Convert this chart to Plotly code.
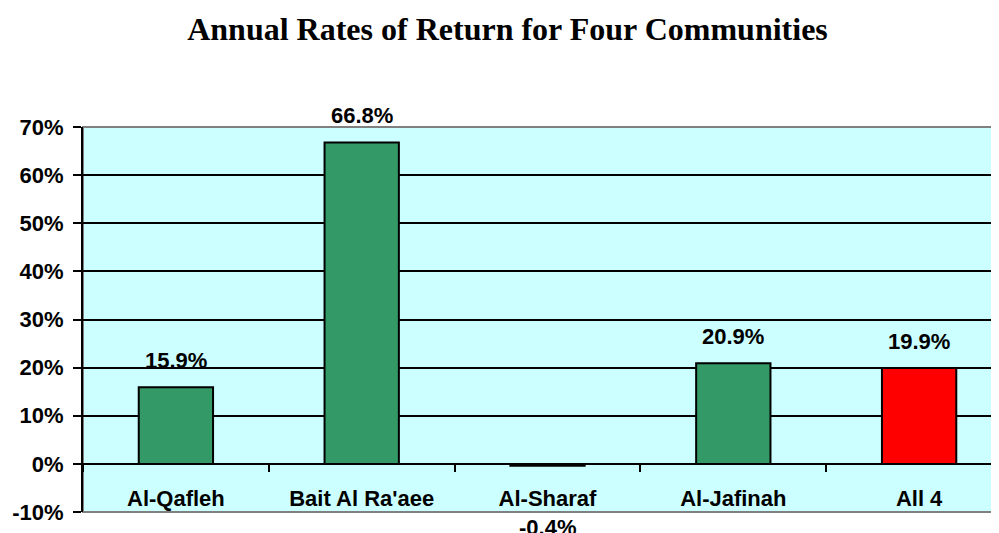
import plotly.graph_objects as go

categories = ["Al-Qafleh", "Bait Al Ra'aee", "Al-Sharaf", "Al-Jafinah", "All 4"]
returns = [0.159, 0.668, -0.004, 0.209, 0.199]
bar_colors = ["#339966", "#339966", "#339966", "#339966", "#FF0000"]
label_texts = ["15.9%", "66.8%", "-0.4%", "20.9%", "19.9%"]
y_ticks = [-0.1, 0.0, 0.1, 0.2, 0.3, 0.4, 0.5, 0.6, 0.7]
y_tick_text = ["-10%", "0%", "10%", "20%", "30%", "40%", "50%", "60%", "70%"]

Y_MIN, Y_MAX = -0.1, 0.7
FONT = "Liberation Sans, Arial"
FS = 22

fig = go.Figure()
fig.add_trace(go.Bar(
    x=categories, y=returns,
    marker=dict(color=bar_colors, line=dict(color="black", width=2)),
    width=0.4,
    hoverinfo="skip",
))

annotations = []
for c, v, t in zip(categories, returns, label_texts):
    if v >= 0:
        annotations.append(dict(x=c, y=v, xref="x", yref="y", text=f"<b>{t}</b>", showarrow=False,
                                yanchor="bottom", yshift=12,
                                font=dict(family=FONT, size=FS, color="black")))
    else:
        annotations.append(dict(x=c, y=Y_MIN, xref="x", yref="y", text=f"<b>{t}</b>", showarrow=False,
                                yanchor="top", yshift=-1,
                                font=dict(family=FONT, size=FS, color="black")))

fig.update_layout(
    width=999, height=533,
    margin=dict(l=75, r=0, t=119, b=29),
    paper_bgcolor="white",
    plot_bgcolor="#CCFFFF",
    showlegend=False,
    title=dict(text="<b>Annual Rates of Return for Four Communities</b>",
               x=0.5, xanchor="center", y=0.961, yanchor="middle",
               font=dict(family="Liberation Serif, Times New Roman", size=32, color="black")),
    annotations=annotations,
    shapes=[dict(type="rect", xref="paper", yref="paper", x0=0, x1=1.02, y0=0, y1=1,
                 line=dict(color="#808080", width=2), layer="below")],
)

fig.update_xaxes(
    range=[-0.5, 4.473],
    anchor="free", position=(0 - Y_MIN) / (Y_MAX - Y_MIN),
    tickvals=categories, ticktext=[f"<b>{c}</b>" for c in categories],
    showline=True, linecolor="black", linewidth=2,
    ticks="outside", tickson="boundaries", ticklen=7, tickwidth=2, tickcolor="black",
    ticklabelstandoff=15,
    showgrid=False,
    tickfont=dict(family=FONT, size=FS, color="black"),
)
fig.update_yaxes(
    range=[Y_MIN, Y_MAX],
    tickvals=y_ticks, ticktext=[f"<b>{t}</b>" for t in y_tick_text],
    showline=True, linecolor="black", linewidth=2,
    ticks="outside", ticklen=8, tickwidth=2, tickcolor="black",
    ticklabelstandoff=5,
    showgrid=True, gridcolor="black", gridwidth=2,
    zeroline=True, zerolinecolor="black", zerolinewidth=2,
    tickfont=dict(family=FONT, size=FS, color="black"),
)

fig.write_html("out.html")
